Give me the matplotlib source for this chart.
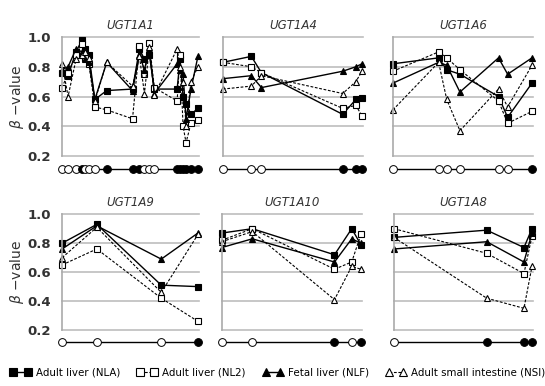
import matplotlib
matplotlib.use('Agg')
import matplotlib.pyplot as plt
from matplotlib.lines import Line2D

plt.rcParams['font.family'] = ['DejaVu Sans']

# CpG positions (relative, 0-138 per panel), methylation status row (1 = filled)
a1_pos = [0, 6, 14, 20, 23, 27, 33, 45, 71, 78, 83, 88, 93, 116, 119, 122, 125, 130, 137]
a1_status = [0, 0, 0, 1, 0, 0, 0, 1, 1, 1, 0, 0, 0, 1, 1, 1, 1, 1, 1]
a1_nla = [0.76, 0.74, 0.90, 0.98, 0.92, 0.88, 0.58, 0.64, 0.65, 0.92, 0.85, 0.88, 0.65, 0.65, 0.85, 0.60, 0.55, 0.48, 0.52]
a1_nl2 = [0.66, 0.76, 0.88, 0.95, 0.86, 0.82, 0.53, 0.51, 0.45, 0.94, 0.75, 0.96, 0.66, 0.57, 0.88, 0.40, 0.29, 0.42, 0.44]
a1_nlf = [0.78, 0.80, 0.92, 0.90, 0.85, 0.83, 0.58, 0.83, 0.64, 0.88, 0.78, 0.92, 0.62, 0.82, 0.78, 0.75, 0.45, 0.65, 0.87]
a1_nsi = [0.82, 0.60, 0.85, 0.88, 0.90, 0.86, 0.57, 0.83, 0.67, 0.87, 0.62, 0.93, 0.61, 0.92, 0.80, 0.70, 0.40, 0.70, 0.80]

a4_pos = [0, 28, 38, 118, 131, 137]
a4_status = [0, 0, 0, 1, 1, 1]
a4_nla = [0.83, 0.87, 0.76, 0.48, 0.58, 0.59]
a4_nl2 = [0.83, 0.80, 0.76, 0.52, 0.54, 0.47]
a4_nlf = [0.72, 0.74, 0.66, 0.77, 0.80, 0.82]
a4_nsi = [0.65, 0.67, 0.74, 0.62, 0.70, 0.77]

a6_pos = [0, 45, 53, 66, 104, 113, 137]
a6_status = [0, 0, 0, 0, 0, 0, 1]
a6_nla = [0.82, 0.86, 0.78, 0.75, 0.60, 0.46, 0.69]
a6_nl2 = [0.77, 0.90, 0.86, 0.78, 0.57, 0.42, 0.50]
a6_nlf = [0.69, 0.83, 0.81, 0.63, 0.86, 0.75, 0.86]
a6_nsi = [0.51, 0.83, 0.58, 0.37, 0.65, 0.53, 0.81]

a9_pos = [0, 35, 100, 137]
a9_status = [0, 0, 0, 1]
a9_nla = [0.80, 0.93, 0.51, 0.50]
a9_nl2 = [0.65, 0.76, 0.42, 0.26]
a9_nlf = [0.76, 0.92, 0.69, 0.87]
a9_nsi = [0.70, 0.91, 0.46, 0.86]

a10_pos = [0, 30, 111, 128, 137]
a10_status = [0, 0, 1, 0, 1]
a10_nla = [0.87, 0.90, 0.72, 0.90, 0.79]
a10_nl2 = [0.82, 0.90, 0.62, 0.67, 0.86]
a10_nlf = [0.77, 0.83, 0.67, 0.83, 0.80]
a10_nsi = [0.81, 0.88, 0.41, 0.64, 0.62]

a8_pos = [0, 92, 129, 137]
a8_status = [0, 1, 1, 1]
a8_nla = [0.84, 0.89, 0.77, 0.90]
a8_nl2 = [0.90, 0.73, 0.59, 0.85]
a8_nlf = [0.76, 0.81, 0.67, 0.87]
a8_nsi = [0.84, 0.42, 0.35, 0.64]

genes = ['UGT1A1', 'UGT1A4', 'UGT1A6', 'UGT1A9', 'UGT1A10', 'UGT1A8']
panels = [
    (a1_pos, a1_status, a1_nla, a1_nl2, a1_nlf, a1_nsi),
    (a4_pos, a4_status, a4_nla, a4_nl2, a4_nlf, a4_nsi),
    (a6_pos, a6_status, a6_nla, a6_nl2, a6_nlf, a6_nsi),
    (a9_pos, a9_status, a9_nla, a9_nl2, a9_nlf, a9_nsi),
    (a10_pos, a10_status, a10_nla, a10_nl2, a10_nlf, a10_nsi),
    (a8_pos, a8_status, a8_nla, a8_nl2, a8_nlf, a8_nsi),
]

# axes rectangles in figure fractions
rects = [
    [0.114, 0.596, 0.251, 0.308],
    [0.409, 0.596, 0.257, 0.308],
    [0.721, 0.596, 0.257, 0.308],
    [0.114, 0.145, 0.251, 0.300],
    [0.407, 0.145, 0.257, 0.300],
    [0.723, 0.145, 0.255, 0.300],
]

dash = (0, (2.5, 1.5))
styles = [
    dict(marker='s', mfc='black', ls='-', lw=1.0),
    dict(marker='s', mfc='white', ls=dash, lw=0.8),
    dict(marker='^', mfc='black', ls='-', lw=1.0),
    dict(marker='^', mfc='white', ls=dash, lw=0.8),
]
labels = ['Adult liver (NLA)', 'Adult liver (NL2)', 'Fetal liver (NLF)', 'Adult small intestine (NSI)']

fig = plt.figure(figsize=(5.45, 3.86), dpi=100)

for i, (gene, data, rect) in enumerate(zip(genes, panels, rects)):
    pos, status = data[0], data[1]
    ax = fig.add_axes(rect)
    ax.set_xlim(0, 138)
    ax.set_ylim(0.2, 1.0)
    for y in [0.2, 0.4, 0.6, 0.8, 1.0]:
        ax.axhline(y, color='#bdbdbd', lw=1.2, zorder=0, clip_on=False)
    for s in ['top', 'right', 'bottom']:
        ax.spines[s].set_visible(False)
    ax.spines['left'].set_color('#aaaaaa')
    ax.spines['left'].set_linewidth(1.2)
    ax.set_xticks([])
    ax.set_yticks([0.2, 0.4, 0.6, 0.8, 1.0])
    ax.tick_params(axis='y', length=0, pad=8, labelsize=9.5, labelcolor='#333333')
    if i % 3 == 0:
        ax.set_yticklabels(['0.2', '0.4', '0.6', '0.8', '1.0'], fontweight='bold')
        ax.set_ylabel('$\\beta$ \u2212value', fontsize=10, color='#333333', labelpad=1)
    else:
        ax.set_yticklabels([])
    ax.set_title(gene, fontsize=8.5, style='italic', color='#333333', pad=6)

    for vals, st in zip(data[2:], styles):
        ax.plot(pos, vals, color='black', marker=st['marker'], mfc=st['mfc'],
                mec='black', mew=0.8, ms=5, ls=st['ls'], lw=st['lw'], clip_on=False)

    # methylation status row below the panel
    yrow = 0.115
    ax.plot([pos[0], pos[-1]], [yrow, yrow], color='black', lw=1.0, clip_on=False, zorder=2)
    for p, s in zip(pos, status):
        ax.plot([p], [yrow], marker='o', ms=5.6, mec='black', mew=0.7,
                mfc='black' if s else 'white', clip_on=False, zorder=3)

handles = [Line2D([0], [0], color='black', marker=st['marker'], mfc=st['mfc'], mec='black',
                  mew=0.8, ms=5.5, ls=st['ls'], lw=st['lw']) for st in styles]
fig.legend(handles, labels, loc='center', bbox_to_anchor=(0.51, 0.036), ncol=4,
           frameon=False, fontsize=7.4, numpoints=2, handlelength=2.0,
           handletextpad=0.5, columnspacing=1.6)

fig.savefig('out.png', dpi=100)
